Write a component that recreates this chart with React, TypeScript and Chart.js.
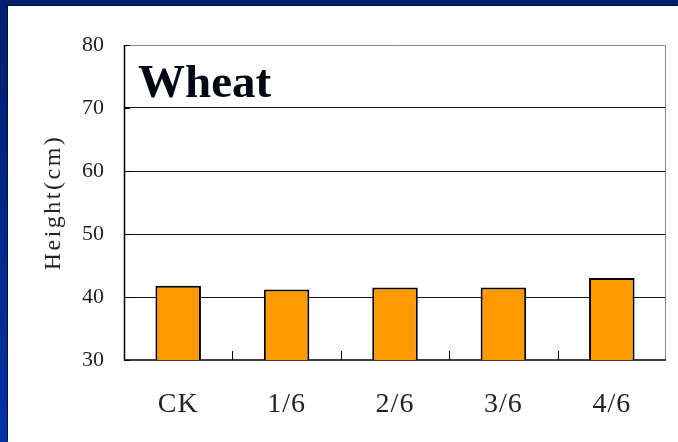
import React, { useEffect, useRef } from "react";
import { Chart, registerables } from "chart.js";

Chart.register(...registerables);

const categories = ["CK", "1/6", "2/6", "3/6", "4/6"];
const heights = [41.8, 41.2, 41.5, 41.5, 43.0];
const yTicks = [30, 40, 50, 60, 70, 80];
const chartTitle = "Wheat";
const yTitle = "Height(cm)";

function withSpacing(scale: any, method: string, spacing: string) {
  const key = "_spaced_" + method;
  if (scale[key]) return;
  scale[key] = true;
  const orig = scale[method];
  scale[method] = function (...args: any[]) {
    const ctx = this.ctx;
    const prev = ctx.letterSpacing;
    ctx.letterSpacing = spacing;
    orig.apply(this, args);
    ctx.letterSpacing = prev || "0px";
  };
}

const framePlugin = {
  id: "frame",
  beforeDatasetsDraw(chart: any) {
    const { ctx, chartArea: a, scales } = chart;
    ctx.save();
    ctx.lineWidth = 1;
    ctx.strokeStyle = "#8a8a8a";
    ctx.beginPath();
    ctx.moveTo(a.left, a.top + 0.5);
    ctx.lineTo(a.right - 0.5, a.top + 0.5);
    ctx.lineTo(a.right - 0.5, a.bottom);
    ctx.stroke();
    ctx.strokeStyle = "#000";
    ctx.lineWidth = 1.5;
    ctx.beginPath();
    ctx.moveTo(a.left + 0.5, a.top);
    ctx.lineTo(a.left + 0.5, a.bottom);
    ctx.lineTo(a.right, a.bottom);
    ctx.stroke();
    const x = scales.x;
    ctx.lineWidth = 1;
    for (let i = 1; i < categories.length; i++) {
      const px = Math.round((x.getPixelForTick(i - 1) + x.getPixelForTick(i)) / 2) + 0.5;
      ctx.beginPath();
      ctx.moveTo(px, a.bottom);
      ctx.lineTo(px, a.bottom - 9);
      ctx.stroke();
    }
    const y = scales.y;
    yTicks.forEach((v) => {
      const py = Math.round(y.getPixelForValue(v)) + 0.5;
      ctx.beginPath();
      ctx.moveTo(a.left, py);
      ctx.lineTo(a.left + 6, py);
      ctx.stroke();
    });
    ctx.restore();
  },
  afterDraw(chart: any) {
    const { ctx, chartArea: a } = chart;
    ctx.save();
    ctx.fillStyle = "#000814";
    ctx.font = "bold 47px 'Liberation Serif'";
    ctx.textBaseline = "alphabetic";
    ctx.textAlign = "left";
    ctx.fillText(chartTitle, a.left + 14, a.top + 52);
    ctx.restore();
  },
};

function BarChart() {
  const ref = useRef<HTMLCanvasElement>(null);
  useEffect(() => {
    if (!ref.current) return;
    const chart = new Chart(ref.current, {
      type: "bar",
      data: {
        labels: categories,
        datasets: [
          {
            data: heights,
            backgroundColor: "#FF9900",
            borderColor: "#000",
            borderWidth: 2,
            borderSkipped: false,
            barPercentage: 0.42,
            categoryPercentage: 1,
          },
        ],
      },
      options: {
        animation: false,
        responsive: false,
        layout: { padding: { left: 0, top: 39, right: 12, bottom: 0 } },
        plugins: { legend: { display: false }, tooltip: { enabled: false }, title: { display: false } },
        scales: {
          x: {
            grid: { display: false, drawTicks: false },
            border: { display: false },
            ticks: {
              color: "#222",
              font: { family: "'Liberation Serif'", size: 28 },
              padding: 28,
            },
            afterFit(scale: any) {
              scale.height = 82;
              withSpacing(scale, "drawLabels", "1px");
            },
          },
          y: {
            min: 30,
            max: 80,
            afterBuildTicks(scale: any) {
              scale.ticks = yTicks.map((v) => ({ value: v }));
            },
            grid: {
              drawTicks: false,
              color: (c: any) => (c.tick && (c.tick.value === 30 || c.tick.value === 80) ? "rgba(0,0,0,0)" : "#111"),
              lineWidth: 1,
            },
            border: { display: false },
            ticks: {
              color: "#222",
              font: { family: "'Liberation Serif'", size: 22 },
              padding: 20,
            },
            title: {
              display: true,
              text: yTitle,
              color: "#222",
              font: { family: "'Liberation Serif'", size: 24 },
              padding: { top: 31, bottom: 0 },
            },
            afterFit(scale: any) {
              scale.width = 116;
              withSpacing(scale, "drawTitle", "2.5px");
            },
          },
        },
      },
      plugins: [framePlugin],
    });
    return () => chart.destroy();
  }, []);
  return <canvas ref={ref} width={670} height={436} style={{ display: "block" }} />;
}

export default function App() {
  return (
    <div
      style={{
        position: "fixed",
        left: 0,
        top: 0,
        width: 678,
        height: 442,
        background: "linear-gradient(to bottom, #001f6e 0%, #0033a3 100%)",
        overflow: "hidden",
      }}
    >
      <div
        style={{
          position: "absolute",
          left: 8,
          top: 6,
          width: 670,
          height: 436,
          background: "#fff",
          boxShadow: "-1px -1px 0 #001040",
        }}
      >
        <BarChart />
      </div>
    </div>
  );
}
